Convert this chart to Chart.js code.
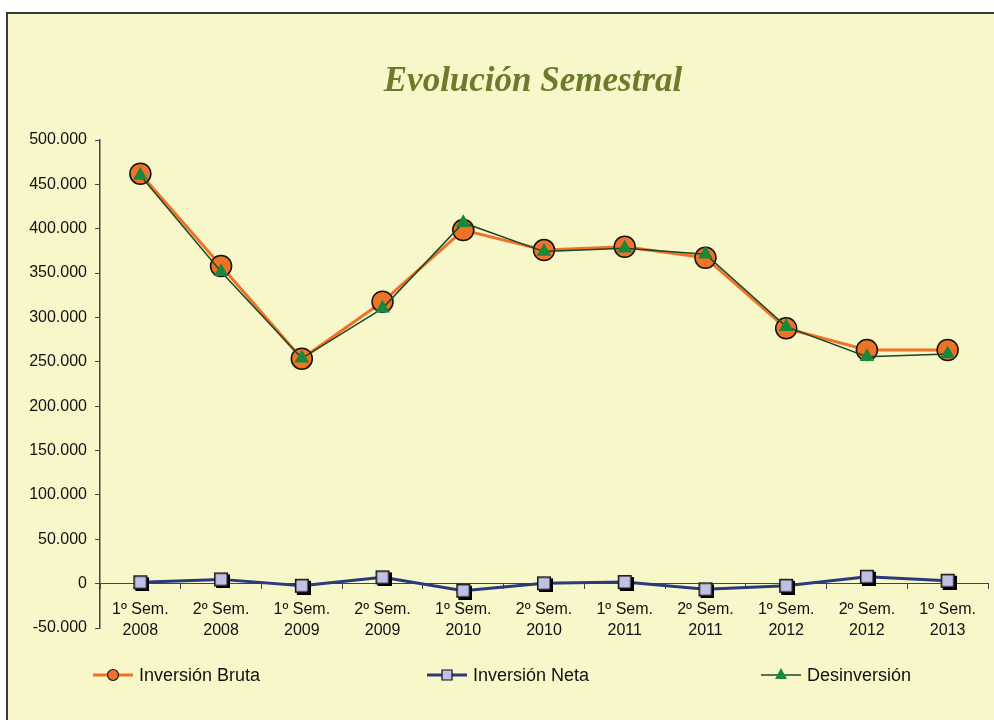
<!DOCTYPE html>
<html>
<head>
<meta charset="utf-8">
<script src="https://cdn.jsdelivr.net/npm/chart.js@4.4.0/dist/chart.umd.min.js"></script>
<style>
    html, body { margin: 0; padding: 0; background: #fff; overflow: hidden; width: 994px; height: 720px; }
    #box {
        position: absolute; left: 6px; top: 12px; width: 1100px; height: 720px;
        border-left: 2px solid #3a3a3a; border-top: 2px solid #3a3a3a;
        background: #F7F7C9;
    }
    #c { position: absolute; left: 0; top: 0; }
</style>
</head>
<body>
<div id="box"><canvas id="c" width="1050" height="706"></canvas></div>
<script>
// Semesters on the x axis
const semestres = [
    ['1º Sem.', '2008'], ['2º Sem.', '2008'], ['1º Sem.', '2009'], ['2º Sem.', '2009'],
    ['1º Sem.', '2010'], ['2º Sem.', '2010'], ['1º Sem.', '2011'], ['2º Sem.', '2011'],
    ['1º Sem.', '2012'], ['2º Sem.', '2012'], ['1º Sem.', '2013']
];

// Values
const inversionBruta = [462000, 358000, 253500, 317700, 398500, 376000, 379700, 367300, 287700, 263300, 263300];
const inversionNeta  = [1500, 4800, -2400, 7100, -8000, 300, 1800, -6400, -2400, 7800, 3300];
const desinversion   = [460000, 351500, 254000, 310300, 406800, 374200, 378000, 371200, 289600, 255800, 258800];

const ORANGE = '#F07227';
const NAVY = '#2A3A7C';
const LAVENDER = '#C0C0E4';
const DARK_GREEN = '#1B4629';
const GREEN = '#17893C';

// Square marker with a hard drop shadow, like the Excel original
function squareMarker(side, shadow) {
    const pad = shadow;
    const size = side + 2 * pad;
    const cv = document.createElement('canvas');
    cv.width = size;
    cv.height = size;
    const g = cv.getContext('2d');
    g.fillStyle = '#000';
    g.fillRect(pad + shadow, pad + shadow, side, side);
    g.fillStyle = LAVENDER;
    g.fillRect(pad, pad, side, side);
    g.strokeStyle = '#111';
    g.lineWidth = 1.5;
    g.strokeRect(pad + 0.75, pad + 0.75, side - 1.5, side - 1.5);
    return cv;
}

// Thousands with a dot, Spanish style
function formatNumber(v) {
    const s = String(Math.abs(Math.round(v))).replace(/\B(?=(\d{3})+(?!\d))/g, '.');
    return (v < 0 ? '-' : '') + s;
}

// Legend drawn as line + marker + label, spread along the bottom
const semLegend = {
    id: 'semLegend',
    afterDraw(chart) {
        const ctx = chart.ctx;
        const area = chart.chartArea;
        const y = area.bottom + 47;
        chart.data.datasets.forEach((ds, i) => {
            const x = area.left - 7 + i * 334;
            ctx.save();
            ctx.strokeStyle = ds.borderColor;
            ctx.lineWidth = ds.borderWidth;
            ctx.beginPath();
            ctx.moveTo(x, y);
            ctx.lineTo(x + 40, y);
            ctx.stroke();

            const cx = x + 20;
            ctx.beginPath();
            if (ds.legendMarker === 'circle') {
                ctx.arc(cx, y, 5.5, 0, Math.PI * 2);
                ctx.fillStyle = ORANGE;
                ctx.fill();
                ctx.lineWidth = 1.2;
                ctx.strokeStyle = '#111';
                ctx.stroke();
            } else if (ds.legendMarker === 'square') {
                ctx.rect(cx - 5, y - 5, 10, 10);
                ctx.fillStyle = LAVENDER;
                ctx.fill();
                ctx.lineWidth = 1.2;
                ctx.strokeStyle = '#111';
                ctx.stroke();
            } else {
                ctx.moveTo(cx, y - 7);
                ctx.lineTo(cx + 6, y + 4);
                ctx.lineTo(cx - 6, y + 4);
                ctx.closePath();
                ctx.fillStyle = GREEN;
                ctx.fill();
            }

            ctx.fillStyle = '#111';
            ctx.font = '18px "Liberation Sans", Arial, sans-serif';
            ctx.textBaseline = 'middle';
            ctx.textAlign = 'left';
            ctx.fillText(ds.label, x + 46, y + 1);
            ctx.restore();
        });
    }
};

const ctx = document.getElementById('c').getContext('2d');
new Chart(ctx, {
    type: 'line',
    data: {
        labels: semestres,
        datasets: [{
            label: 'Inversión Bruta',
            data: inversionBruta,
            borderColor: ORANGE,
            borderWidth: 3,
            pointStyle: 'circle',
            pointRadius: 10.5,
            pointBackgroundColor: ORANGE,
            pointBorderColor: '#111',
            pointBorderWidth: 1.5,
            legendMarker: 'circle',
            order: 2
        }, {
            label: 'Inversión Neta',
            data: inversionNeta,
            borderColor: NAVY,
            borderWidth: 3,
            pointStyle: squareMarker(14, 2),
            pointRadius: 8,
            legendMarker: 'square',
            order: 1
        }, {
            label: 'Desinversión',
            data: desinversion,
            borderColor: DARK_GREEN,
            borderWidth: 1.5,
            pointStyle: 'triangle',
            pointRadius: 8.5,
            pointBackgroundColor: GREEN,
            pointBorderColor: GREEN,
            pointBorderWidth: 0,
            legendMarker: 'triangle',
            order: 0
        }]
    },
    options: {
        responsive: false,
        animation: false,
        events: [],
        layout: {
            padding: { left: 0, right: 0, top: 0, bottom: 92 }
        },
        plugins: {
            legend: { display: false },
            tooltip: { enabled: false },
            title: {
                display: true,
                text: 'Evolución Semestral',
                color: '#6E7B2C',
                font: {
                    family: '"Liberation Serif", "Times New Roman", serif',
                    size: 35,
                    style: 'italic',
                    weight: 'bold'
                },
                padding: { top: 47, bottom: 37 }
            }
        },
        scales: {
            x: {
                type: 'category',
                position: { y: 0 },
                offset: true,
                grid: {
                    offset: true,
                    drawOnChartArea: false,
                    drawTicks: true,
                    tickLength: 5,
                    color: '#444'
                },
                border: { display: true, color: '#444', width: 1 },
                ticks: {
                    color: '#111',
                    padding: 11,
                    maxRotation: 0,
                    autoSkip: false,
                    font: { family: '"Liberation Sans", Arial, sans-serif', size: 16, lineHeight: 1.3 }
                }
            },
            y: {
                min: -50000,
                max: 500000,
                afterFit: function(scale) { scale.width = 92; },
                grid: {
                    drawOnChartArea: false,
                    drawTicks: true,
                    tickLength: 5,
                    color: '#444'
                },
                border: { display: true, color: '#444', width: 1.5 },
                ticks: {
                    stepSize: 50000,
                    color: '#111',
                    padding: 8,
                    font: { family: '"Liberation Sans", Arial, sans-serif', size: 16 },
                    callback: function(value) { return formatNumber(value); }
                }
            },
            // empty right-hand strip: the original chart box runs past the window edge
            spacer: {
                axis: 'y',
                position: 'right',
                display: true,
                afterFit: function(scale) { scale.width = 70; },
                grid: { display: false },
                border: { display: false },
                ticks: { display: false }
            }
        }
    },
    plugins: [semLegend]
});
</script>
</body>
</html>
